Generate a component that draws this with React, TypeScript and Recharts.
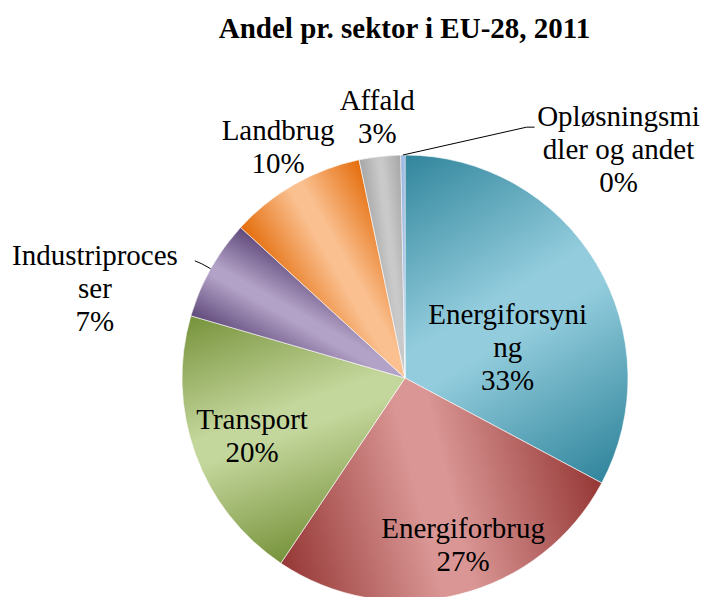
import React from 'react';
import { PieChart, Pie, Sector } from 'recharts';

const sectors = [
  'Energiforsyning',
  'Energiforbrug',
  'Transport',
  'Industriprocesser',
  'Landbrug',
  'Affald',
  'Opløsningsmidler og andet',
];
const shares = [32.8, 26.6, 20.1, 7.3, 9.9, 3.0, 0.3];
const darkColors = ['#31859C', '#953735', '#77933C', '#5F497A', '#E46C0A', '#A6A6A6', '#7F9FCF'];
const lightColors = ['#93CDDD', '#D99694', '#C3D69B', '#B3A2C7', '#FAC090', '#C9C9C9', '#A6C2E8'];

const data = sectors.map((name, i) => ({ name, value: shares[i] }));

// label placement relative to each slice's mid angle (clockwise degrees, radius as fraction of pie radius)
const labelLayout: Record<string, { lines: string[]; r: number; shift: number; leader?: { r: number; shift: number; tail: number } }> = {
  Energiforsyning: { lines: ['Energiforsyni', 'ng'], r: 0.48, shift: 14.5 },
  Energiforbrug: { lines: ['Energiforbrug'], r: 0.795, shift: -5.1 },
  Transport: { lines: ['Transport'], r: 0.735, shift: -1.1 },
  Industriprocesser: { lines: ['Industriproces', 'ser'], r: 1.446, shift: -13.4, leader: { r: 1.045, shift: 0, tail: -7 } },
  Landbrug: { lines: ['Landbrug'], r: 1.182, shift: 0.9 },
  Affald: { lines: ['Affald'], r: 1.175, shift: 0.4 },
  'Opløsningsmidler og andet': { lines: ['Opløsningsmi', 'dler og andet'], r: 1.4, shift: 43.7, leader: { r: 1.25, shift: 26.4, tail: 8 } },
};

const FONT = 'Liberation Serif, Times New Roman, serif';
const RAD = Math.PI / 180;

// recharts angle (ccw from 3 o'clock) -> point
const pt = (cx: number, cy: number, r: number, angle: number) => ({
  x: cx + r * Math.cos(-angle * RAD),
  y: cy + r * Math.sin(-angle * RAD),
});

// clockwise-from-top angle -> point
const cwPt = (cx: number, cy: number, r: number, theta: number) => ({
  x: cx + r * Math.sin(theta * RAD),
  y: cy - r * Math.cos(theta * RAD),
});

const GradientSector = (props: any) => {
  const { cx, cy, outerRadius, startAngle, endAngle, index } = props;
  const a = pt(cx, cy, outerRadius, startAngle);
  const b = pt(cx, cy, outerRadius, endAngle);
  const id = `slice-grad-${index}`;
  return (
    <g>
      <defs>
        <linearGradient id={id} gradientUnits="userSpaceOnUse" x1={a.x} y1={a.y} x2={b.x} y2={b.y}>
          <stop offset="0" stopColor={darkColors[index]} />
          <stop offset="0.45" stopColor={lightColors[index]} />
          <stop offset="0.55" stopColor={lightColors[index]} />
          <stop offset="1" stopColor={darkColors[index]} />
        </linearGradient>
      </defs>
      <Sector {...props} fill={`url(#${id})`} stroke="#ffffff" strokeWidth={0.6} />
    </g>
  );
};

const renderLabel = (props: any) => {
  const { cx, cy, midAngle, outerRadius, percent, name } = props;
  const layout = labelLayout[name];
  if (!layout) return null;
  const theta = 90 - midAngle;
  const anchor = cwPt(cx, cy, outerRadius * layout.r, theta + layout.shift);
  const lines = [...layout.lines, `${Math.round(percent * 100)}%`];
  const step = 33;
  let leader = null;
  if (layout.leader) {
    const p0 = cwPt(cx, cy, outerRadius, theta);
    const p1 = cwPt(cx, cy, outerRadius * layout.leader.r, theta + layout.leader.shift);
    const p2 = { x: p1.x + layout.leader.tail, y: p1.y + (layout.leader.tail < 0 ? -3 : 0) };
    leader = (
      <polyline
        points={`${p0.x},${p0.y} ${p1.x},${p1.y} ${p2.x},${p2.y}`}
        fill="none"
        stroke="#000000"
        strokeWidth={1}
      />
    );
  }
  return (
    <g fontFamily={FONT}>
      {leader}
      {lines.map((line, i) => (
        <text
          key={i}
          x={anchor.x}
          y={anchor.y + (i - (lines.length - 1) / 2) * step + 9}
          textAnchor="middle"
          fill="#000000"
          fontFamily={FONT}
          fontSize={29}
          style={{ fontFamily: FONT, fontSize: '29px' }}
        >
          {line}
        </text>
      ))}
    </g>
  );
};

export default function App() {
  return (
    <div style={{ position: 'relative', width: 704, height: 597, background: '#ffffff', overflow: 'hidden', fontFamily: FONT }}>
      <style>{`body { margin: 0; }`}</style>
      <div
        style={{
          position: 'absolute',
          top: 12,
          left: 0,
          width: 704,
          textAlign: 'center',
          paddingLeft: 105,
          boxSizing: 'border-box',
          fontFamily: FONT,
          fontWeight: 'bold',
          fontSize: 29,
        }}
      >
        Andel pr. sektor i EU-28, 2011
      </div>
      <PieChart width={704} height={597} margin={{ top: 0, right: 0, bottom: 0, left: 0 }} style={{ fontFamily: FONT }}>
        <Pie
          data={data}
          dataKey="value"
          nameKey="name"
          cx={405}
          cy={378}
          outerRadius={223}
          startAngle={90}
          endAngle={-270}
          shape={GradientSector}
          label={renderLabel}
          labelLine={false}
          isAnimationActive={false}
        />
      </PieChart>
    </div>
  );
}
